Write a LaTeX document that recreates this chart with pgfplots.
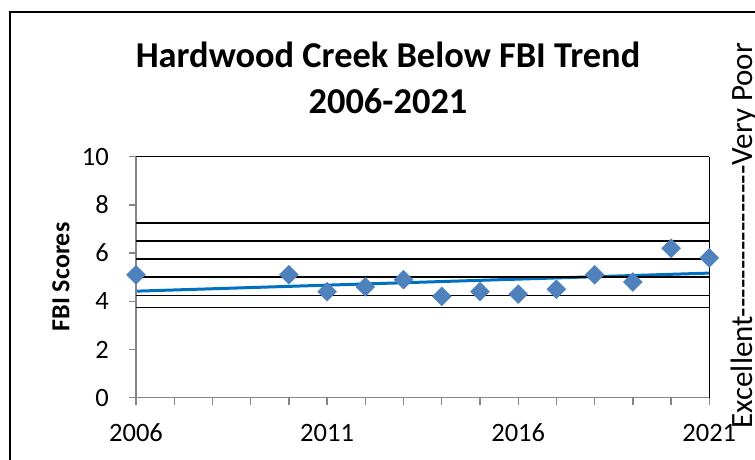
\documentclass[border=0pt]{standalone}
\usepackage{fontspec}
\setmainfont{Carlito}
\usepackage{pgfplots}
\pgfplotsset{compat=1.18}
\definecolor{mk}{RGB}{79,129,189}
\definecolor{tr}{RGB}{0,112,192}
\definecolor{axgray}{RGB}{134,134,134}
\begin{document}
\begin{tikzpicture}
\begin{axis}[
  at={(0,0)}, anchor=south west, scale only axis,
  width=573.3bp, height=241bp,
  xmin=2006, xmax=2021, ymin=0, ymax=10,
  xtick={2006,2011,2016,2021},
  minor xtick={2007,2008,2009,2010,2012,2013,2014,2015,2017,2018,2019,2020},
  ytick={0,2,4,6,8,10},
  xtick pos=left, ytick pos=left,
  tick align=outside,
  major tick length=7bp, minor tick length=7bp,
  tick style={axgray, line width=1.3bp},
  axis line style={draw=none},
  extra y ticks={3.75,4.25,5,5.75,6.5,7.25,10},
  extra y tick labels={},
  extra y tick style={grid=major, major grid style={black, line width=1.4bp}, major tick length=0pt},
  axis on top,
  clip=false,
  /pgf/number format/assume math mode=true,
  /pgf/number format/1000 sep={},
  tick label style={font=\fontsize{26.5bp}{30bp}\selectfont},
  yticklabel style={anchor=east, inner sep=0pt, xshift=-20bp},
  xticklabel style={anchor=north, inner sep=0pt, yshift=-19bp},
]
\addplot[only marks, mark=square*, mark size=6.7bp, mark options={rotate=45, fill=mk, draw=mk}] coordinates {
 (2006,5.1) (2010,5.1) (2011,4.4) (2012,4.6) (2013,4.9) (2014,4.2) (2015,4.4)
 (2016,4.3) (2017,4.5) (2018,5.1) (2019,4.8) (2020,6.2) (2021,5.8)
};
\addplot[tr, line width=3bp, no marks] coordinates {(2006,4.42) (2021,5.17)};
\draw[axgray, line width=1.4bp] (rel axis cs:0,0) -- (rel axis cs:0,1);
\draw[axgray, line width=1.4bp] (rel axis cs:0,0) -- (rel axis cs:1,0);
\draw[black, line width=1.4bp] (rel axis cs:1,0) -- (rel axis cs:1,1);
\end{axis}
% outer chart frame
\draw[black, line width=1.6bp] (-126bp,-90bp) -- (-126bp,385.7bp) -- (660bp,385.7bp);
% title
\node[anchor=base, inner sep=0pt, font=\fontsize{36.4bp}{40bp}\selectfont\bfseries] at (252bp,330.4bp) {Hardwood Creek Below FBI Trend};
\node[anchor=base, inner sep=0pt, font=\fontsize{36.4bp}{40bp}\selectfont\bfseries] at (252bp,284.2bp) {2006-2021};
% y label
\node[rotate=90, anchor=base, inner sep=0pt, font=\fontsize{26bp}{30bp}\selectfont\bfseries] at (-66.7bp,120.7bp) {FBI Scores};
% right label
\node[rotate=90, anchor=base west, inner sep=0pt, font=\fontsize{31bp}{36bp}\selectfont] at (616bp,-31bp) {Excellent-{}-{}-{}-{}-{}-{}-{}-{}-{}-{}-{}-{}-{}-{}-{}-{}Very Poor};
\pgfresetboundingbox
\path[use as bounding box] (-136bp,-62.3bp) rectangle (619bp,397.7bp);
\end{tikzpicture}
\end{document}
